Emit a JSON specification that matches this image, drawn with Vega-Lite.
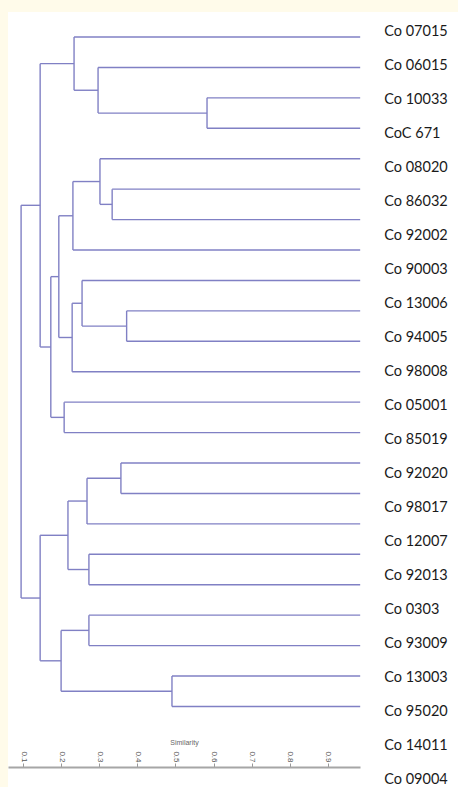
{
  "$schema": "https://vega.github.io/schema/vega-lite/v6.json",
  "width": 450,
  "height": 775,
  "autosize": {"type": "none"},
  "padding": {"left": 8, "top": 12, "right": 0, "bottom": 0},
  "background": "#fffbea",
  "config": {"view": {"stroke": null, "fill": "#ffffff"}},
  "data": {
    "values": [
      {"id": "L0", "label": "Co 07015", "sim": 0.985, "pos": 0, "parent_sim": 0.234},
      {"id": "L1", "label": "Co 06015", "sim": 0.985, "pos": 1, "parent_sim": 0.297},
      {"id": "L2", "label": "Co 10033", "sim": 0.985, "pos": 2, "parent_sim": 0.583},
      {"id": "L3", "label": "CoC 671", "sim": 0.985, "pos": 3, "parent_sim": 0.583},
      {"id": "L4", "label": "Co 08020", "sim": 0.985, "pos": 4, "parent_sim": 0.302},
      {"id": "L5", "label": "Co 86032", "sim": 0.985, "pos": 5, "parent_sim": 0.334},
      {"id": "L6", "label": "Co 92002", "sim": 0.985, "pos": 6, "parent_sim": 0.334},
      {"id": "L7", "label": "Co 90003", "sim": 0.985, "pos": 7, "parent_sim": 0.231},
      {"id": "L8", "label": "Co 13006", "sim": 0.985, "pos": 8, "parent_sim": 0.255},
      {"id": "L9", "label": "Co 94005", "sim": 0.985, "pos": 9, "parent_sim": 0.372},
      {"id": "L10", "label": "Co 98008", "sim": 0.985, "pos": 10, "parent_sim": 0.372},
      {"id": "L11", "label": "Co 05001", "sim": 0.985, "pos": 11, "parent_sim": 0.229},
      {"id": "L12", "label": "Co 85019", "sim": 0.985, "pos": 12, "parent_sim": 0.208},
      {"id": "L13", "label": "Co 92020", "sim": 0.985, "pos": 13, "parent_sim": 0.208},
      {"id": "L14", "label": "Co 98017", "sim": 0.985, "pos": 14, "parent_sim": 0.357},
      {"id": "L15", "label": "Co 12007", "sim": 0.985, "pos": 15, "parent_sim": 0.357},
      {"id": "L16", "label": "Co 92013", "sim": 0.985, "pos": 16, "parent_sim": 0.268},
      {"id": "L17", "label": "Co 0303", "sim": 0.985, "pos": 17, "parent_sim": 0.273},
      {"id": "L18", "label": "Co 93009", "sim": 0.985, "pos": 18, "parent_sim": 0.273},
      {"id": "L19", "label": "Co 13003", "sim": 0.985, "pos": 19, "parent_sim": 0.273},
      {"id": "L20", "label": "Co 95020", "sim": 0.985, "pos": 20, "parent_sim": 0.273},
      {"id": "L21", "label": "Co 14011", "sim": 0.985, "pos": 21, "parent_sim": 0.491},
      {"id": "L22", "label": "Co 09004", "sim": 0.985, "pos": 22, "parent_sim": 0.491},
      {"id": "n23", "sim": 0.583, "pos": 2.5, "lo": 2, "hi": 3, "parent_sim": 0.297},
      {"id": "n24", "sim": 0.297, "pos": 1.75, "lo": 1, "hi": 2.5, "parent_sim": 0.234},
      {"id": "n25", "sim": 0.234, "pos": 0.875, "lo": 0, "hi": 1.75, "parent_sim": 0.145},
      {"id": "n26", "sim": 0.334, "pos": 5.5, "lo": 5, "hi": 6, "parent_sim": 0.302},
      {"id": "n27", "sim": 0.302, "pos": 4.75, "lo": 4, "hi": 5.5, "parent_sim": 0.231},
      {"id": "n28", "sim": 0.231, "pos": 5.875, "lo": 4.75, "hi": 7, "parent_sim": 0.194},
      {"id": "n29", "sim": 0.372, "pos": 9.5, "lo": 9, "hi": 10, "parent_sim": 0.255},
      {"id": "n30", "sim": 0.255, "pos": 8.75, "lo": 8, "hi": 9.5, "parent_sim": 0.229},
      {"id": "n31", "sim": 0.229, "pos": 9.875, "lo": 8.75, "hi": 11, "parent_sim": 0.194},
      {"id": "n32", "sim": 0.194, "pos": 7.875, "lo": 5.875, "hi": 9.875, "parent_sim": 0.173},
      {"id": "n33", "sim": 0.208, "pos": 12.5, "lo": 12, "hi": 13, "parent_sim": 0.173},
      {"id": "n34", "sim": 0.173, "pos": 10.1875, "lo": 7.875, "hi": 12.5, "parent_sim": 0.145},
      {"id": "n35", "sim": 0.145, "pos": 5.53125, "lo": 0.875, "hi": 10.1875, "parent_sim": 0.095},
      {"id": "n36", "sim": 0.357, "pos": 14.5, "lo": 14, "hi": 15, "parent_sim": 0.268},
      {"id": "n37", "sim": 0.268, "pos": 15.25, "lo": 14.5, "hi": 16, "parent_sim": 0.218},
      {"id": "n38", "sim": 0.273, "pos": 17.5, "lo": 17, "hi": 18, "parent_sim": 0.218},
      {"id": "n39", "sim": 0.218, "pos": 16.375, "lo": 15.25, "hi": 17.5, "parent_sim": 0.145},
      {"id": "n40", "sim": 0.273, "pos": 19.5, "lo": 19, "hi": 20, "parent_sim": 0.2},
      {"id": "n41", "sim": 0.491, "pos": 21.5, "lo": 21, "hi": 22, "parent_sim": 0.2},
      {"id": "n42", "sim": 0.2, "pos": 20.5, "lo": 19.5, "hi": 21.5, "parent_sim": 0.145},
      {"id": "n43", "sim": 0.145, "pos": 18.4375, "lo": 16.375, "hi": 20.5, "parent_sim": 0.095},
      {"id": "root", "sim": 0.095, "pos": 11.984375, "lo": 5.53125, "hi": 18.4375}
    ]
  },
  "layer": [
    {
      "transform": [{"filter": "isValid(datum.parent_sim)"}],
      "mark": {"type": "rule", "color": "#8080c4", "strokeWidth": 1.4},
      "encoding": {
        "x": {
          "field": "sim",
          "type": "quantitative",
          "scale": {"domain": [0.06063, 0.98451], "range": [0, 352], "nice": false, "zero": false},
          "axis": {
            "orient": "top",
            "offset": -755,
            "values": [0.1, 0.2, 0.3, 0.4, 0.5, 0.6, 0.7, 0.8, 0.9],
            "format": ".1f",
            "labelAngle": 90,
            "labelFont": "Liberation Sans",
            "labelFontSize": 8,
            "labelColor": "#555555",
            "labelPadding": 1,
            "tickSize": 4,
            "tickColor": "#999999",
            "domainColor": "#a6a6a6",
            "domainWidth": 2,
            "grid": false,
            "title": "Similarity",
            "titleFont": "Liberation Sans",
            "titleFontSize": 7,
            "titleFontWeight": "normal",
            "titleColor": "#666666",
            "titlePadding": 5
          }
        },
        "x2": {"field": "parent_sim"},
        "y": {
          "field": "pos",
          "type": "quantitative",
          "scale": {"domain": [-0.8216, 24.647], "reverse": true, "nice": false, "zero": false},
          "axis": null
        }
      }
    },
    {
      "transform": [{"filter": "isValid(datum.lo)"}],
      "mark": {"type": "rule", "color": "#8080c4", "strokeWidth": 1.4},
      "encoding": {
        "x": {"field": "sim", "type": "quantitative"},
        "y": {
          "field": "lo",
          "type": "quantitative",
          "scale": {"domain": [-0.8216, 24.647], "reverse": true, "nice": false, "zero": false},
          "axis": null
        },
        "y2": {"field": "hi"}
      }
    },
    {
      "transform": [{"filter": "isValid(datum.label)"}],
      "mark": {"type": "text", "align": "left", "baseline": "middle", "dx": 24, "font": "Lato", "fontSize": 14.5, "color": "#1a1a1a"},
      "encoding": {
        "x": {"field": "sim", "type": "quantitative"},
        "y": {
          "field": "pos",
          "type": "quantitative",
          "scale": {"domain": [-0.5882, 22.206], "reverse": true, "nice": false, "zero": false},
          "axis": null
        },
        "text": {"field": "label"}
      }
    }
  ],
  "resolve": {"scale": {"y": "independent"}}
}
